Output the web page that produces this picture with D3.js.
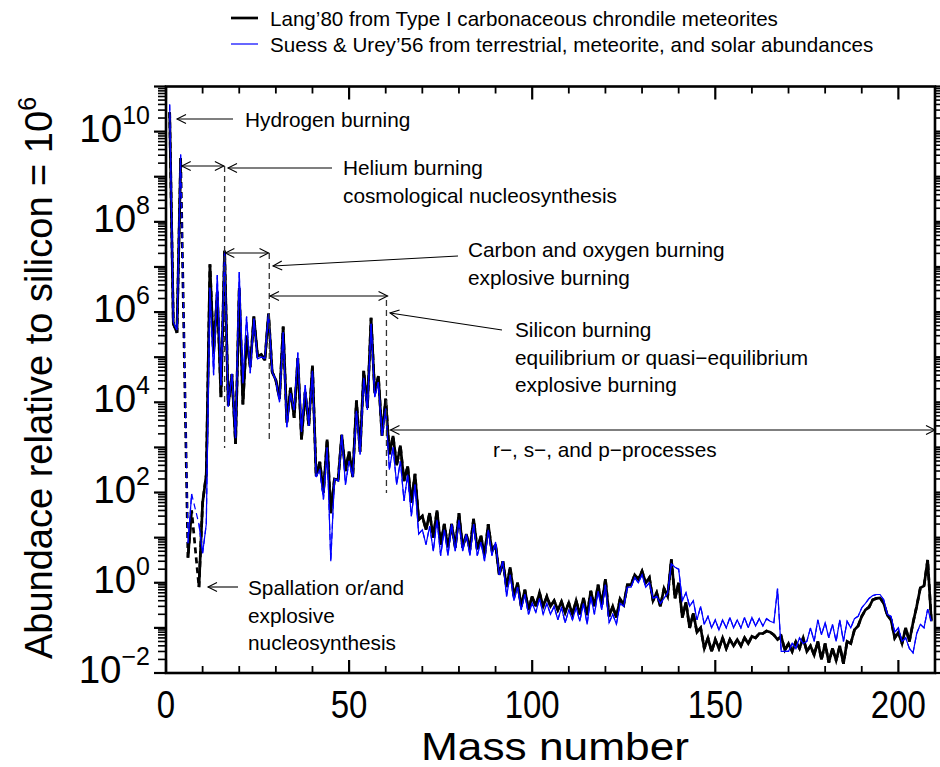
<!DOCTYPE html>
<html>
<head>
<meta charset="utf-8">
<script src="https://cdn.jsdelivr.net/npm/d3@7/dist/d3.min.js"></script>
<style>
  body { margin: 0; background: #fff; }
  svg { display: block; }
  text { font-family: "Liberation Sans", Arial, Helvetica, sans-serif; fill: #000; }
</style>
</head>
<body>
<svg id="chart" width="940" height="767"></svg>
<script>
// Mass numbers 1..209 (null = no entry for that mass number)
const massNumbers = d3.range(1, 210);

// Lang (1980), Type I carbonaceous chondrites, Si = 1e6
const langAbundance = [
  2.7e10, 5.5e5, 3.5e5, 2.6e9, null, 3.6, 40, null, 0.8, 60,
  250, 1.15e7, 1.2e5, 2.8e6, 1.3e4, 2.3e7, 8.5e3, 4.2e4, 1.2e3, 3.4e6,
  9e3, 3.0e5, 6e4, 8e5, 1.05e5, 1.15e5, 8.5e4, 9.2e5, 4.7e4, 3.1e4,
  1.2e4, 4.8e5, 3.5e3, 2.1e4, 4.5e3, 9.5e4, 1.5e3, 1.7e4, 3e3, 6.5e4,
  230, 480, 100, 1.5e3, 35, 200, 190, 1.9e3, 300, 800,
  220, 1.1e4, 800, 5e4, 7.5e3, 7.5e5, 1.6e4, 3.8e4, 1.8e3, 1.2e4,
  700, 1800, 400, 1100, 180, 380, 60, 260, 25, 30,
  15, 35, 10, 40, 7, 20, 6, 20, 6, 35,
  6, 12, 5.5, 26, 5.5, 11, 4, 20, 5, 7,
  1.5, 3, 0.8, 2.2, 0.5, 1.0, 0.3, 0.7, 0.25, 0.5,
  0.3, 0.6, 0.3, 0.5, 0.3, 0.4, 0.25, 0.38, 0.22, 0.36,
  0.2, 0.4, 0.2, 0.46, 0.19, 0.66, 0.3, 0.9, 0.32, 1.2,
  0.18, 0.3, 0.17, 0.44, 0.33, 0.9, 0.9, 1.5, 1.2, 1.8,
  1.0, 1.3, 0.4, 0.6, 0.3, 0.75, 0.5, 3.3, 0.45, 1.0,
  0.17, 0.37, 0.1, 0.21, 0.08, 0.1, 0.035, 0.06, 0.03, 0.055,
  0.035, 0.06, 0.035, 0.055, 0.04, 0.055, 0.04, 0.06, 0.045, 0.065,
  0.06, 0.075, 0.075, 0.085, 0.08, 0.07, 0.055, 0.065, 0.032, 0.045,
  0.03, 0.05, 0.035, 0.06, 0.03, 0.04, 0.025, 0.05, 0.02, 0.045,
  0.017, 0.035, 0.019, 0.04, 0.016, 0.05, 0.045, 0.09, 0.11, 0.18,
  0.25, 0.29, 0.42, 0.45, 0.46, 0.35, 0.19, 0.15, 0.06, 0.08,
  0.045, 0.1, 0.05, 0.13, 0.3, 0.77, 0.85, 3.2, 0.14
];

// Suess & Urey (1956), terrestrial, meteoritic and solar abundances, Si = 1e6
const suessUreyAbundance = [
  4.0e10, 6e5, 4e5, 3.1e9, null, 7.5, 93, null, 20, 4.5,
  20, 3.5e6, 4e4, 6.6e6, 2.4e4, 2.1e7, 8e3, 4.3e4, 1.6e3, 7.7e6,
  2.6e4, 8e5, 4.4e4, 7.2e5, 9.2e4, 1.0e5, 9.5e4, 9.2e5, 4.7e4, 3.1e4,
  1e4, 3.6e5, 2.8e3, 1.6e4, 6.7e3, 1.27e5, 2.2e3, 2.4e4, 3.0e3, 5e4,
  220, 320, 70, 1e3, 3, 200, 180, 1.9e3, 150, 500,
  220, 6.5e3, 700, 3.5e4, 6.8e3, 5.5e5, 1.3e4, 2.8e4, 1.8e3, 7.3e3,
  320, 1e3, 150, 500, 65, 250, 30, 150, 12, 15,
  7, 18, 5, 25, 4, 15, 4, 20, 5, 25,
  5, 12, 4, 20, 4, 8, 3, 15, 4, 8,
  1.5, 3, 0.5, 1.5, 0.4, 0.8, 0.25, 0.55, 0.2, 0.35,
  0.22, 0.45, 0.2, 0.35, 0.2, 0.3, 0.15, 0.28, 0.13, 0.25,
  0.15, 0.28, 0.14, 0.35, 0.12, 0.5, 0.2, 0.65, 0.25, 0.9,
  0.13, 0.2, 0.12, 0.35, 0.3, 0.8, 0.8, 1.3, 1.0, 1.5,
  0.8, 1.0, 0.45, 0.5, 0.35, 0.45, 0.6, 2.6, 2.2, 2.0,
  0.4, 0.6, 0.3, 0.4, 0.15, 0.3, 0.12, 0.18, 0.1, 0.15,
  0.09, 0.15, 0.1, 0.17, 0.1, 0.15, 0.1, 0.17, 0.1, 0.17,
  0.11, 0.16, 0.11, 0.16, 0.14, 0.13, 0.74, 0.03, 0.03, 0.03,
  0.045, 0.035, 0.06, 0.045, 0.05, 0.1, 0.05, 0.15, 0.07, 0.13,
  0.06, 0.12, 0.05, 0.15, 0.05, 0.14, 0.1, 0.16, 0.18, 0.28,
  0.35, 0.45, 0.52, 0.55, 0.55, 0.42, 0.2, 0.18, 0.08, 0.1,
  0.05, 0.06, 0.035, 0.028, 0.075, 0.12, 0.1, 0.26, 0.14
];

const xMajorTicks = [0, 50, 100, 150, 200];
const xMinorTicks = d3.range(10, 210, 10).filter(v => v % 50 !== 0);
const yDecades = d3.range(-2, 12);            // 1e-2 .. 1e11
const yLabelExponents = [-2, 0, 2, 4, 6, 8, 10];

const seriesNames = [
  "Lang\u201980 from Type I carbonaceous chrondile meteorites",
  "Suess & Urey\u201956 from terrestrial, meteorite, and solar abundances"
];

const svg = d3.select("#chart");
const plotL = 166, plotR = 935, plotT = 86.5, plotB = 673;

const x = d3.scaleLinear().domain([0, 210]).range([plotL, plotR]);
const y = d3.scaleLog().domain([1e-2, 1e11]).range([plotB, plotT]);

// arrowhead markers (open V)
const defs = svg.append("defs");
function marker(id, orient) {
  defs.append("marker")
    .attr("id", id).attr("viewBox", "-10 -6 12 12")
    .attr("refX", 0).attr("refY", 0)
    .attr("markerWidth", 12).attr("markerHeight", 12)
    .attr("markerUnits", "userSpaceOnUse")
    .attr("orient", orient)
    .append("path").attr("d", "M-9,-4.5 L0,0 L-9,4.5")
    .attr("fill", "none").attr("stroke", "#000").attr("stroke-width", 1.1);
}
marker("arrowEnd", "auto");
marker("arrowStart", "auto-start-reverse");

// series
const rows = massNumbers.map((m, i) => ({ m, lang: langAbundance[i], su: suessUreyAbundance[i] }));
function drawSeries(key, color, width, dash) {
  const defined = rows.filter(d => d[key] != null);
  const gen = d3.line().x(d => x(d.m)).y(d => y(d[key]));
  // dashed bridge over mass numbers with no entry
  svg.append("path").datum(defined).attr("d", gen)
    .attr("fill", "none").attr("stroke", color).attr("stroke-width", width)
    .attr("stroke-dasharray", dash);
  svg.append("path").datum(rows).attr("d", gen.defined(d => d[key] != null))
    .attr("fill", "none").attr("stroke", color).attr("stroke-width", width)
    .attr("stroke-linejoin", "miter").attr("stroke-miterlimit", 3);
}
drawSeries("lang", "#000", 2.7, "6,4");
drawSeries("su", "#0000ff", 1.2, "6,4");

// frame
const axisW = 2.6;
svg.append("rect").attr("x", plotL).attr("y", plotT)
  .attr("width", plotR - plotL).attr("height", plotB - plotT)
  .attr("fill", "none").attr("stroke", "#000").attr("stroke-width", axisW);

// x ticks (inward, bottom and top)
const tickG = svg.append("g").attr("stroke", "#000");
xMajorTicks.forEach(v => {
  tickG.append("line").attr("x1", x(v)).attr("x2", x(v)).attr("y1", plotB).attr("y2", plotB - 13).attr("stroke-width", 2.2);
  tickG.append("line").attr("x1", x(v)).attr("x2", x(v)).attr("y1", plotT).attr("y2", plotT + 13).attr("stroke-width", 2.2);
});
xMinorTicks.forEach(v => {
  tickG.append("line").attr("x1", x(v)).attr("x2", x(v)).attr("y1", plotB).attr("y2", plotB - 7).attr("stroke-width", 1.8);
  tickG.append("line").attr("x1", x(v)).attr("x2", x(v)).attr("y1", plotT).attr("y2", plotT + 7).attr("stroke-width", 1.8);
});
// y ticks (outward, left and right)
yDecades.forEach(e => {
  const v = Math.pow(10, e);
  tickG.append("line").attr("x1", plotL).attr("x2", plotL - 12).attr("y1", y(v)).attr("y2", y(v)).attr("stroke-width", 2.2);
  tickG.append("line").attr("x1", plotR).attr("x2", plotR + 12).attr("y1", y(v)).attr("y2", y(v)).attr("stroke-width", 2.2);
  if (e < 11) {
    d3.range(2, 10).forEach(k => {
      const yy = y(k * v);
      tickG.append("line").attr("x1", plotL).attr("x2", plotL - 8).attr("y1", yy).attr("y2", yy).attr("stroke-width", 1.6);
      tickG.append("line").attr("x1", plotR).attr("x2", plotR + 8).attr("y1", yy).attr("y2", yy).attr("stroke-width", 1.6);
    });
  }
});

// x tick labels (tall, slightly condensed face)
xMajorTicks.forEach(v => {
  svg.append("text")
    .attr("transform", `translate(${x(v)},718) scale(1,1.17)`)
    .attr("text-anchor", "middle").attr("font-size", 33).text(v);
});
// y tick labels 10^n
yLabelExponents.forEach(e => {
  const t = svg.append("text").attr("x", 150).attr("y", y(Math.pow(10, e)) + 10)
    .attr("text-anchor", "end").attr("font-size", 38.5);
  t.append("tspan").text("10");
  t.append("tspan").attr("dy", -18).attr("font-size", 25).text(e < 0 ? "\u2212" + (-e) : e);
});

// axis titles
svg.append("text").attr("transform", "translate(555,760) scale(1,1.08)")
  .attr("text-anchor", "middle").attr("font-size", 36)
  .attr("textLength", 268).attr("lengthAdjust", "spacingAndGlyphs").text("Mass number");
const yt = svg.append("text").attr("transform", "translate(52,378) rotate(-90)")
  .attr("text-anchor", "middle").attr("font-size", 38);
yt.append("tspan").text("Abundace relative to silicon = 10");
yt.append("tspan").attr("dy", -16).attr("font-size", 25).text("6");

// legend
const legendRows = [
  { name: seriesNames[0], color: "#000", w: 2.7, y: 18 },
  { name: seriesNames[1], color: "#0000ff", w: 1.2, y: 44 }
];
legendRows.forEach(r => {
  svg.append("line").attr("x1", 231).attr("x2", 258).attr("y1", r.y).attr("y2", r.y)
    .attr("stroke", r.color).attr("stroke-width", r.w);
  svg.append("text").attr("x", 270).attr("y", r.y + 7.5).attr("font-size", 20.6).text(r.name);
});

// annotations
const ann = svg.append("g").attr("stroke", "#000").attr("fill", "none");
function arrow(x1, y1, x2, y2, both) {
  const l = ann.append("line").attr("x1", x1).attr("y1", y1).attr("x2", x2).attr("y2", y2)
    .attr("stroke-width", 1.1).attr("marker-end", "url(#arrowEnd)");
  if (both) l.attr("marker-start", "url(#arrowStart)");
}
function vdash(xv, y1, y2) {
  ann.append("line").attr("x1", xv).attr("x2", xv).attr("y1", y1).attr("y2", y2)
    .attr("stroke", "#333").attr("stroke-width", 1.3).attr("stroke-dasharray", "6,4");
}
// burning stage ranges
arrow(x(4.3), 166, x(15.8), 166, true);
vdash(x(16), 166, 448);
arrow(x(16.2), 253, x(28), 253, true);
vdash(x(28.2), 253, 443);
arrow(x(28.4), 296, x(60.5), 296, true);
vdash(x(60.2), 300, 493);
arrow(x(61.3), 430, x(210), 430, true);
// pointers from labels
arrow(233, 119, 177, 119);
arrow(332, 168, 228, 168);
arrow(458, 256, 273, 266);
arrow(502, 330, 390, 313);
arrow(238, 587, 208, 587);

const notes = [
  { x: 245, y: 127, lines: ["Hydrogen burning"] },
  { x: 343, y: 175, lines: ["Helium burning", "cosmological nucleosynthesis"] },
  { x: 468, y: 257, lines: ["Carbon and oxygen burning", "explosive burning"] },
  { x: 515, y: 337, lines: ["Silicon burning", "equilibrium or quasi\u2212equilibrium", "explosive burning"] },
  { x: 493, y: 457, lines: ["r\u2212, s\u2212, and p\u2212processes"] },
  { x: 248, y: 595, lines: ["Spallation or/and", "explosive", "nucleosynthesis"] }
];
notes.forEach(n => {
  n.lines.forEach((s, i) => {
    svg.append("text").attr("x", n.x).attr("y", n.y + i * 27.5).attr("font-size", 20.8).text(s);
  });
});
</script>
</body>
</html>
